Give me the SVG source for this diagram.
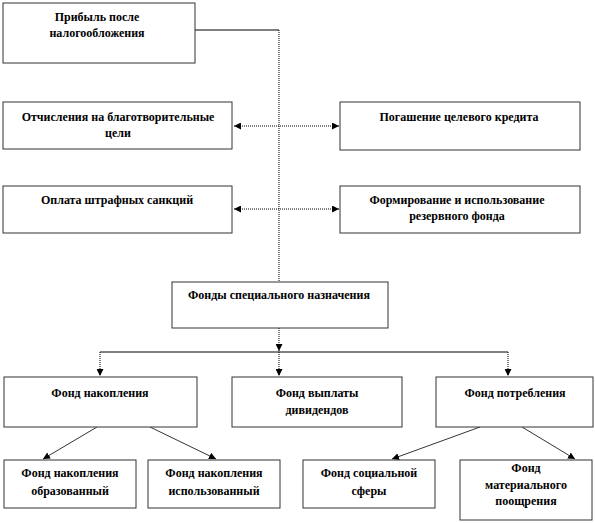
<svg xmlns="http://www.w3.org/2000/svg" width="595" height="523" viewBox="0 0 595 523">
<style>
.box{fill:#fff;stroke:#333;stroke-width:1}
.t{font-family:"Liberation Serif","Times New Roman",serif;font-weight:bold;font-size:12px;fill:#000;text-anchor:middle}
.solid{fill:none;stroke:#000;stroke-width:1}
.dot{fill:none;stroke:#000;stroke-width:1;stroke-dasharray:1 1}
.thin{fill:none;stroke:#000;stroke-width:0.8}
</style>
<defs>
<marker id="ah" viewBox="0 0 10 10" refX="10" refY="5" markerWidth="7" markerHeight="7" orient="auto" markerUnits="userSpaceOnUse">
<path d="M0,0 L10,5 L0,10 z" fill="#000"/>
</marker>
<marker id="ahs" viewBox="0 0 10 10" refX="0" refY="5" markerWidth="7" markerHeight="7" orient="auto" markerUnits="userSpaceOnUse">
<path d="M10,0 L0,5 L10,10 z" fill="#000"/>
</marker>
</defs>
<g id="connectors">
<path class="solid" d="M195,30 H279"/>
<path class="dot" d="M279,30 V282"/>
<path class="dot" d="M234,126 H339" marker-start="url(#ahs)" marker-end="url(#ah)"/>
<path class="dot" d="M234,209 H339" marker-start="url(#ahs)" marker-end="url(#ah)"/>
<path class="dot" d="M279,328 V351" marker-end="url(#ah)"/>
<path class="solid" d="M100,352 H508"/>
<path class="dot" d="M100,352 V376" marker-end="url(#ah)"/>
<path class="dot" d="M279,352 V376" marker-end="url(#ah)"/>
<path class="dot" d="M508,352 V376" marker-end="url(#ah)"/>
<path class="thin" d="M97,427 L43,459" marker-end="url(#ah)"/>
<path class="thin" d="M150,427 L216,459" marker-end="url(#ah)"/>
<path class="thin" d="M480,427 L392,459" marker-end="url(#ah)"/>
<path class="thin" d="M522,427 L575,459" marker-end="url(#ah)"/>
</g>
<g id="n1"><rect class="box" x="3" y="3" width="192" height="60"/><text class="t" x="97" y="21">Прибыль после</text><text class="t" x="97" y="37">налогообложения</text></g>
<g id="n2"><rect class="box" x="3" y="102" width="229" height="47"/><text class="t" x="118" y="121">Отчисления  на благотворительные</text><text class="t" x="118" y="137">цели</text></g>
<g id="n3"><rect class="box" x="340" y="102" width="240" height="48"/><text class="t" x="459" y="121">Погашение целевого  кредита</text></g>
<g id="n4"><rect class="box" x="3" y="186" width="229" height="47"/><text class="t" x="117" y="204">Оплата  штрафных  санкций</text></g>
<g id="n5"><rect class="box" x="340" y="186" width="240" height="47"/><text class="t" x="457" y="204">Формирование и использование</text><text class="t" x="457" y="220">резервного фонда</text></g>
<g id="n6"><rect class="box" x="172" y="282" width="216" height="46"/><text class="t" x="279" y="299">Фонды специального  назначения</text></g>
<g id="n7"><rect class="box" x="4" y="377" width="193" height="50"/><text class="t" x="100" y="397">Фонд накопления</text></g>
<g id="n8"><rect class="box" x="232" y="377" width="170" height="50"/><text class="t" x="317" y="397">Фонд выплаты</text><text class="t" x="317" y="414">дивидендов</text></g>
<g id="n9"><rect class="box" x="436" y="377" width="157" height="50"/><text class="t" x="515" y="397">Фонд потребления</text></g>
<g id="n10"><rect class="box" x="4" y="460" width="132" height="48"/><text class="t" x="70" y="477">Фонд накопления</text><text class="t" x="70" y="495">образованный</text></g>
<g id="n11"><rect class="box" x="148" y="460" width="132" height="48"/><text class="t" x="214" y="477">Фонд накопления</text><text class="t" x="214" y="495">использованный</text></g>
<g id="n12"><rect class="box" x="303" y="460" width="132" height="48"/><text class="t" x="369" y="477">Фонд социальной</text><text class="t" x="369" y="495">сферы</text></g>
<g id="n13"><rect class="box" x="460" y="460" width="132" height="60"/><text class="t" x="526" y="472">Фонд</text><text class="t" x="526" y="489">материального</text><text class="t" x="526" y="505">поощрения</text></g>
</svg>
